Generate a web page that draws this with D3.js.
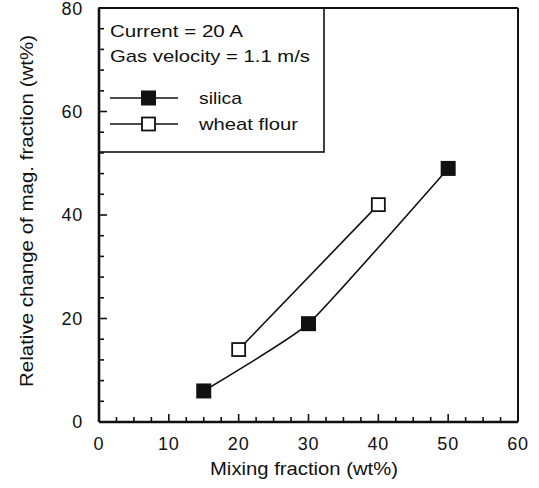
<!DOCTYPE html>
<html>
<head>
<meta charset="utf-8">
<script src="https://cdn.jsdelivr.net/npm/d3@7"></script>
<style>
  body { margin: 0; background: #fff; }
  text { font-family: "Liberation Sans", Arial, sans-serif; fill: #111; }
</style>
</head>
<body>
<div id="viz"></div>
<script>
const width = 539;
const height = 488;
const margin = {top: 8, right: 21, bottom: 66, left: 99};

// data
const silicaX = [15, 30, 50];
const silicaY = [6, 19, 49];
const flourX = [20, 40];
const flourY = [14, 42];
const xTicks = [0, 10, 20, 30, 40, 50, 60];
const yTicks = [0, 20, 40, 60, 80];
const notes = ['Current = 20 A', 'Gas velocity = 1.1 m/s'];
const noteWidths = [133, 200];
const seriesNames = ['silica', 'wheat flour'];
const seriesWidths = [43, 99];

const svg = d3.select('#viz')
  .append('svg')
  .attr('width', width)
  .attr('height', height);

const xScale = d3.scaleLinear()
  .domain([0, 60])
  .range([margin.left, width - margin.right]);

const yScale = d3.scaleLinear()
  .domain([0, 80])
  .range([height - margin.bottom, margin.top]);

const x0 = xScale(0), x1 = xScale(60), y0 = yScale(0), y1 = yScale(80);

// legend box (drawn first so the axis ticks stay on top of it)
const legend = svg.append('g');
legend.append('rect')
  .attr('x', x0).attr('y', y1)
  .attr('width', 225).attr('height', 144)
  .attr('fill', '#fff').attr('stroke', '#111').attr('stroke-width', 1.6);

legend.selectAll('text.note')
  .data(notes)
  .join('text')
    .attr('class', 'note')
    .attr('x', x0 + 11)
    .attr('y', (d, i) => y1 + 29 + i * 25)
    .attr('font-size', 17)
    .attr('textLength', (d, i) => noteWidths[i])
    .attr('lengthAdjust', 'spacingAndGlyphs')
    .text(d => d);

const rows = legend.selectAll('g.row')
  .data(seriesNames)
  .join('g')
    .attr('class', 'row')
    .attr('transform', (d, i) => `translate(${x0 + 11}, ${y1 + 90 + i * 26})`);

rows.append('line')
  .attr('x1', 0).attr('x2', 68)
  .attr('stroke', '#111').attr('stroke-width', 1.6);
rows.append('rect')
  .attr('x', (d, i) => 31 + (i ? 1 : 0))
  .attr('y', (d, i) => -7.5 + (i ? 1 : 0))
  .attr('width', (d, i) => i ? 13 : 15)
  .attr('height', (d, i) => i ? 13 : 15)
  .attr('fill', (d, i) => i ? '#fff' : '#111')
  .attr('stroke', '#111')
  .attr('stroke-width', (d, i) => i ? 1.8 : 0);
rows.append('text')
  .attr('x', 89)
  .attr('y', 6)
  .attr('font-size', 17)
  .attr('textLength', (d, i) => seriesWidths[i])
  .attr('lengthAdjust', 'spacingAndGlyphs')
  .text(d => d);

// minor and major ticks (inward)
const minorX = d3.range(0, 60.01, 2.5);
const minorY = d3.range(0, 80.01, 4);

svg.append('g')
  .selectAll('line')
  .data(minorX)
  .join('line')
    .attr('x1', d => xScale(d)).attr('x2', d => xScale(d))
    .attr('y1', y0).attr('y2', d => y0 - (xTicks.includes(d) ? 8 : 5))
    .attr('stroke', '#111').attr('stroke-width', 1.6);

svg.append('g')
  .selectAll('line')
  .data(minorY)
  .join('line')
    .attr('y1', d => yScale(d)).attr('y2', d => yScale(d))
    .attr('x1', x0).attr('x2', d => x0 + (yTicks.includes(d) ? 8 : 5))
    .attr('stroke', '#111').attr('stroke-width', 1.6);

// frame
svg.append('line')
  .attr('x1', x0).attr('x2', x1).attr('y1', y1).attr('y2', y1)
  .attr('stroke', '#111').attr('stroke-width', 1.8);
svg.append('line')
  .attr('x1', x1).attr('x2', x1).attr('y1', y0).attr('y2', y1)
  .attr('stroke', '#111').attr('stroke-width', 2);
svg.append('line')
  .attr('x1', x0).attr('x2', x1).attr('y1', y0).attr('y2', y0)
  .attr('stroke', '#111').attr('stroke-width', 2.6);
svg.append('line')
  .attr('x1', x0).attr('x2', x0).attr('y1', y0).attr('y2', y1)
  .attr('stroke', '#111').attr('stroke-width', 2.6);

// tick labels
svg.append('g')
  .selectAll('text')
  .data(xTicks)
  .join('text')
    .attr('x', d => xScale(d))
    .attr('y', y0 + 28)
    .attr('text-anchor', 'middle')
    .attr('font-size', 18)
    .attr('letter-spacing', 0.8)
    .text(d => d);

svg.append('g')
  .selectAll('text')
  .data(yTicks)
  .join('text')
    .attr('x', x0 - 16)
    .attr('y', d => yScale(d) + 6 + (d === 80 ? 1 : 0))
    .attr('text-anchor', 'end')
    .attr('font-size', 18)
    .attr('letter-spacing', 0.8)
    .text(d => d);

// axis titles
svg.append('text')
  .attr('x', 210)
  .attr('y', 475)
  .attr('font-size', 18)
  .attr('textLength', 188)
  .attr('lengthAdjust', 'spacingAndGlyphs')
  .text('Mixing fraction (wt%)');

svg.append('text')
  .attr('transform', 'translate(33, 387) rotate(-90)')
  .attr('font-size', 18)
  .attr('textLength', 352)
  .attr('lengthAdjust', 'spacingAndGlyphs')
  .text('Relative change of mag. fraction (wt%)');

// lines
const line = d3.line()
  .x(d => xScale(d[0]))
  .y(d => yScale(d[1]))
  .curve(d3.curveCardinal.tension(0.6));

const silica = silicaX.map((x, i) => [x, silicaY[i]]);
const flour = flourX.map((x, i) => [x, flourY[i]]);

svg.append('path')
  .attr('d', line(silica))
  .attr('fill', 'none').attr('stroke', '#111').attr('stroke-width', 1.6);
svg.append('path')
  .attr('d', line(flour))
  .attr('fill', 'none').attr('stroke', '#111').attr('stroke-width', 1.6);

const sq = 15;
svg.append('g')
  .selectAll('rect')
  .data(silica)
  .join('rect')
    .attr('x', d => xScale(d[0]) - sq / 2)
    .attr('y', d => yScale(d[1]) - sq / 2)
    .attr('width', sq).attr('height', sq)
    .attr('fill', '#111');
svg.append('g')
  .selectAll('rect')
  .data(flour)
  .join('rect')
    .attr('x', d => xScale(d[0]) - sq / 2 + 1)
    .attr('y', d => yScale(d[1]) - sq / 2 + 1)
    .attr('width', sq - 2).attr('height', sq - 2)
    .attr('fill', '#fff').attr('stroke', '#111').attr('stroke-width', 1.8);
</script>
</body>
</html>
